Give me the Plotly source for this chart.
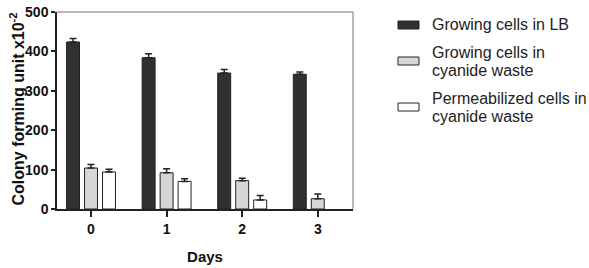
import plotly.graph_objects as go

days = [0, 1, 2, 3]
day_labels = ["0", "1", "2", "3"]
lb_vals = [424, 384, 345, 342]
lb_err = [9, 10, 9, 6]
cy_vals = [104, 92, 72, 26]
cy_err = [9, 10, 6, 12]
perm_vals = [94, 70, 23, None]
perm_err = [7, 7, 11, 0]
series_names = ["Growing cells in LB", "Growing cells in cyanide waste",
                "Permeabilized cells in cyanide waste"]
legend_lines = [["Growing cells in LB"], ["Growing cells in", "cyanide waste"],
                ["Permeabilized cells in", "cyanide waste"]]
fills = ["#303030", "#d6d6d6", "#ffffff"]
y_title = "<b>Colony forming unit x10<sup>-2</sup></b>"

W, H = 589, 268
L, R, T, B = 57, 353, 12, 209
FONT = "Liberation Sans, Arial, sans-serif"

fig = go.Figure()
for vals, errs, fill, name in zip([lb_vals, cy_vals, perm_vals], [lb_err, cy_err, perm_err], fills, series_names):
    fig.add_trace(go.Bar(
        x=days, y=vals, name=name, showlegend=False,
        marker=dict(color=fill, line=dict(color="#222222", width=1)),
        error_y=dict(type="data", array=errs, arrayminus=[0]*len(errs), symmetric=False,
                     color="#222222", thickness=1.5, width=3.5),
    ))

def px2x(px):
    return (px - L) / (R - L)

def py2y(py):
    return (B - py) / (B - T)

shapes = [
    dict(type="line", xref="paper", yref="paper", x0=0, x1=1, y0=1, y1=1,
         line=dict(color="#777777", width=1)),
    dict(type="line", xref="paper", yref="paper", x0=1, x1=1, y0=0, y1=1,
         line=dict(color="#777777", width=1)),
]
annotations = [dict(xref="paper", yref="paper", x=px2x(17.5), y=py2y(109), text=y_title,
                    textangle=-90, showarrow=False, xanchor="center", yanchor="middle",
                    font=dict(family=FONT, size=16, color="#111111"))]
legend_rows = [(25, [25]), (61, [52, 70]), (107, [98, 117])]
for (mc, ys), fill, lines in zip(legend_rows, fills, legend_lines):
    shapes.append(dict(type="rect", xref="paper", yref="paper",
                       x0=px2x(398), x1=px2x(419), y0=py2y(mc + 4), y1=py2y(mc - 4),
                       fillcolor=fill, line=dict(color="#222222", width=1)))
    for yy, txt in zip(ys, lines):
        annotations.append(dict(xref="paper", yref="paper", x=px2x(430), y=py2y(yy),
                                text=txt, showarrow=False, xanchor="left", yanchor="middle",
                                align="left", font=dict(family=FONT, size=16, color="#222222")))

fig.update_layout(
    width=W, height=H,
    margin=dict(l=L, r=W - R, t=T, b=H - B, autoexpand=False),
    paper_bgcolor="white", plot_bgcolor="white",
    barmode="group", bargap=0.286, bargroupgap=0.28,
    shapes=shapes, annotations=annotations,
    font=dict(family=FONT, color="#111111"),
    xaxis=dict(range=[-0.45, 3.466], tickvals=days, ticktext=day_labels, automargin=False,
               showline=True, linecolor="#222222", linewidth=1.5,
               ticks="outside", ticklen=6, tickwidth=1.5, tickcolor="#222222",
               showgrid=False, zeroline=False,
               tickfont=dict(family=FONT, size=14, color="#111111", weight="bold"),
               title=dict(text="<b>Days</b>", font=dict(family=FONT, size=15, color="#111111"), standoff=16)),
    yaxis=dict(range=[0, 500], tickvals=[0, 100, 200, 300, 400, 500], automargin=False,
               showline=True, linecolor="#222222", linewidth=1.5,
               ticks="outside", ticklen=4, tickwidth=1.5, tickcolor="#222222",
               showgrid=False, zeroline=False,
               tickfont=dict(family=FONT, size=14, color="#111111", weight="bold")),
)

fig.write_html("out.html", config={"displayModeBar": False},
               post_script="document.body.style.margin='0px';")
